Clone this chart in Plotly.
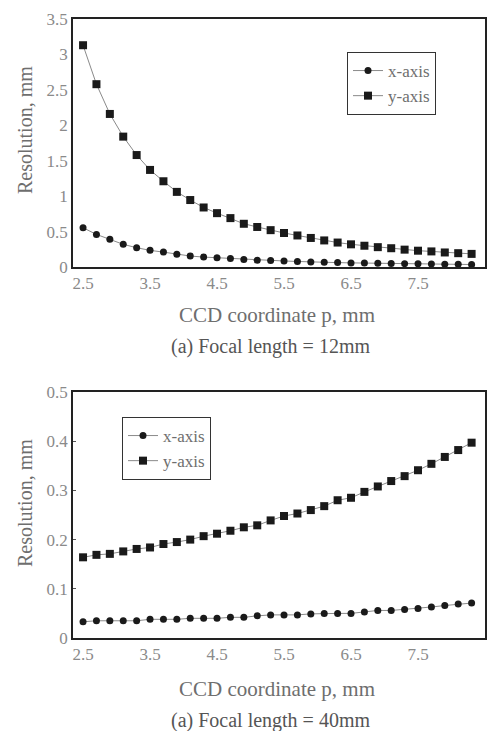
import plotly.graph_objects as go

# ---- data ----
p_mm = [2.5, 2.7, 2.9, 3.1, 3.3, 3.5, 3.7, 3.9, 4.1, 4.3,
        4.5, 4.7, 4.9, 5.1, 5.3, 5.5, 5.7, 5.9, 6.1, 6.3,
        6.5, 6.7, 6.9, 7.1, 7.3, 7.5, 7.7, 7.9, 8.1, 8.3]

f12_x_axis = [0.554, 0.46, 0.39, 0.32, 0.272, 0.235, 0.21, 0.18, 0.155, 0.14,
              0.13, 0.12, 0.105, 0.095, 0.09, 0.085, 0.078, 0.07, 0.066, 0.062,
              0.058, 0.055, 0.052, 0.05, 0.047, 0.045, 0.042, 0.04, 0.038, 0.035]
f12_y_axis = [3.13, 2.58, 2.16, 1.84, 1.58, 1.37, 1.21, 1.06, 0.945, 0.84,
              0.76, 0.69, 0.61, 0.565, 0.52, 0.48, 0.445, 0.41, 0.375, 0.345,
              0.32, 0.30, 0.28, 0.265, 0.245, 0.23, 0.22, 0.205, 0.195, 0.185]

f40_x_axis = [0.033, 0.035, 0.035, 0.035, 0.035, 0.038, 0.038, 0.038, 0.040, 0.040,
              0.040, 0.042, 0.042, 0.045, 0.047, 0.047, 0.047, 0.049, 0.050, 0.050,
              0.050, 0.053, 0.056, 0.056, 0.058, 0.060, 0.063, 0.066, 0.069, 0.071]
f40_y_axis = [0.164, 0.169, 0.171, 0.176, 0.181, 0.184, 0.191, 0.195, 0.200, 0.207,
              0.212, 0.218, 0.225, 0.229, 0.239, 0.248, 0.253, 0.260, 0.268, 0.280,
              0.285, 0.297, 0.308, 0.319, 0.329, 0.341, 0.354, 0.368, 0.382, 0.397]

x_tick_vals = [2.5, 3.5, 4.5, 5.5, 6.5, 7.5]
x_tick_text = ["2.5", "3.5", "4.5", "5.5", "6.5", "7.5"]
y1_tick_vals = [0, 0.5, 1, 1.5, 2, 2.5, 3, 3.5]
y1_tick_text = ["0", "0.5", "1", "1.5", "2", "2.5", "3", "3.5"]
y2_tick_vals = [0, 0.1, 0.2, 0.3, 0.4, 0.5]
y2_tick_text = ["0", "0.1", "0.2", "0.3", "0.4", "0.5"]

x_title = "CCD coordinate p, mm"
y_title = "Resolution, mm"
caption_top = "(a) Focal length = 12mm"
caption_bottom = "(a) Focal length = 40mm"

W, H = 488, 731
FONT = "Liberation Serif, DejaVu Serif, serif"
TXT = "#6e6e6e"
LINE = "#8a8a8a"

fig = go.Figure()

def add_pair(xa, ya, xs, ys, legend):
    fig.add_trace(go.Scatter(
        x=p_mm, y=xs, name="x-axis", mode="lines+markers",
        line=dict(color=LINE, width=1),
        marker=dict(symbol="circle", size=7, color="#1a1a1a"),
        xaxis=xa, yaxis=ya, legend=legend))
    fig.add_trace(go.Scatter(
        x=p_mm, y=ys, name="y-axis", mode="lines+markers",
        line=dict(color=LINE, width=1),
        marker=dict(symbol="square", size=8, color="#1a1a1a"),
        xaxis=xa, yaxis=ya, legend=legend))

add_pair("x", "y", f12_x_axis, f12_y_axis, "legend")
add_pair("x2", "y2", f40_x_axis, f40_y_axis, "legend2")

def px2x(px):
    return px / W

def px2y(py):
    return 1 - py / H

xdom = [px2x(73), px2x(485)]
dom_top = [px2y(267), px2y(19)]
dom_bot = [px2y(638), px2y(392)]

axis_common = dict(showline=True, linecolor="#222", linewidth=1.5, mirror=True,
                   showgrid=False, zeroline=False, automargin=False,
                   tickfont=dict(family=FONT, size=17, color="#8a8a8a"))

fig.update_layout(
    width=W, height=H, margin=dict(l=0, r=0, t=0, b=0, autoexpand=False),
    paper_bgcolor="white", plot_bgcolor="white",
    xaxis=dict(domain=xdom, range=[2.35, 8.5], anchor="y",
               tickvals=x_tick_vals, ticktext=x_tick_text, ticks="", ticklen=0,
               **axis_common),
    yaxis=dict(domain=dom_top, range=[0, 3.5], anchor="x",
               tickvals=y1_tick_vals, ticktext=y1_tick_text, ticks="", ticklen=0,
               **axis_common),
    xaxis2=dict(domain=xdom, range=[2.35, 8.5], anchor="y2",
                tickvals=x_tick_vals, ticktext=x_tick_text, ticks="", ticklen=0,
                **axis_common),
    yaxis2=dict(domain=dom_bot, range=[0, 0.5], anchor="x2",
                tickvals=y2_tick_vals, ticktext=y2_tick_text,
                ticks="inside", ticklen=3, tickcolor="#555", **axis_common),
    legend=dict(x=px2x(347), y=px2y(52), xanchor="left", yanchor="top",
                bgcolor="white", bordercolor="#333", borderwidth=1,
                font=dict(family=FONT, size=17, color=TXT),
                itemwidth=30, tracegroupgap=0),
    legend2=dict(x=px2x(122), y=px2y(417), xanchor="left", yanchor="top",
                 bgcolor="white", bordercolor="#333", borderwidth=1,
                 font=dict(family=FONT, size=17, color=TXT),
                 itemwidth=30, tracegroupgap=0),
    showlegend=True,
)

ann = []
for cy_title, cy_x in [(130, 315), (503, 689)]:
    ann.append(dict(text=y_title, x=px2x(25), y=px2y(cy_title), xref="paper", yref="paper",
                    textangle=-90, showarrow=False, xanchor="center", yanchor="middle",
                    font=dict(family=FONT, size=20, color=TXT)))
    ann.append(dict(text=x_title, x=px2x(277), y=px2y(cy_x), xref="paper", yref="paper",
                    showarrow=False, xanchor="center", yanchor="middle",
                    font=dict(family=FONT, size=21, color=TXT)))
for cy_cap, cap in [(346, caption_top), (720, caption_bottom)]:
    ann.append(dict(text=cap, x=px2x(270), y=px2y(cy_cap), xref="paper", yref="paper",
                    showarrow=False, xanchor="center", yanchor="middle",
                    font=dict(family=FONT, size=20, color="#555")))
fig.update_layout(annotations=ann)

fig.write_html("out.html",
               config={"displayModeBar": False},
               post_script="document.body.style.margin='0';document.body.style.overflow='hidden';")
